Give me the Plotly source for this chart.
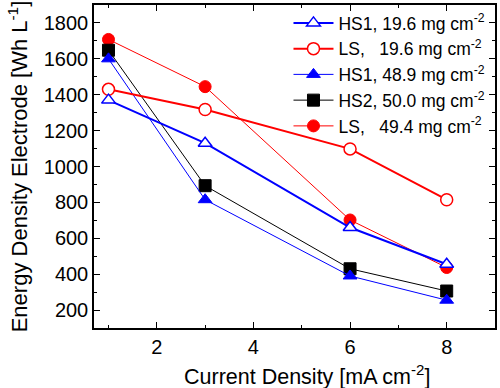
import plotly.graph_objects as go

current = [1, 3, 6, 8]
hs1_196 = [1370, 1130, 660, 455]
ls_196 = [1430, 1318, 1098, 815]
hs1_489 = [1600, 815, 390, 255]
hs2_500 = [1648, 893, 430, 306]
ls_494 = [1708, 1445, 702, 437]

NB = "\u00a0"
series = [
    ("HS1, 19.6 mg cm<sup>-2</sup>", hs1_196, "blue", "triangle-up", True, 2),
    ("LS," + NB * 3 + "19.6 mg cm<sup>-2</sup>", ls_196, "red", "circle", True, 2),
    ("HS1, 48.9 mg cm<sup>-2</sup>", hs1_489, "blue", "triangle-up", False, 1),
    ("HS2, 50.0 mg cm<sup>-2</sup>", hs2_500, "black", "square", False, 1),
    ("LS," + NB * 3 + "49.4 mg cm<sup>-2</sup>", ls_494, "red", "circle", False, 1),
]

fig = go.Figure()
for name, ys, col, sym, hollow, lw in reversed(series):
    fig.add_trace(go.Scatter(
        x=current, y=ys, name=name, mode="lines+markers",
        line=dict(color=col, width=lw),
        marker=dict(symbol=sym, size=12,
                    color="white" if hollow else col,
                    line=dict(color=col, width=1.5 if hollow else 1)),
    ))

font = "Liberation Sans, Arial, sans-serif"
axis_common = dict(
    showline=True, linecolor="black", linewidth=1.5, mirror="ticks",
    ticks="inside", ticklen=6, tickwidth=1.3, tickcolor="black",
    showgrid=False, zeroline=False,
    tickfont=dict(family=font, size=20, color="black"),
)
fig.update_xaxes(
    range=[0.7, 9.0], tick0=2, dtick=2,
    minor=dict(ticks="inside", ticklen=3, tickwidth=1.2, tickcolor="black", dtick=1, tick0=1),
    **axis_common,
)
fig.update_yaxes(
    range=[100, 1900], tick0=200, dtick=200,
    minor=dict(ticks="inside", ticklen=3, tickwidth=1.2, tickcolor="black", dtick=100),
    title=dict(text="Energy Density Electrode [Wh L<sup>-1</sup>]", font=dict(family=font, size=22, color="black"), standoff=10),
    **axis_common,
)
fig.add_annotation(
    text="Current Density [mA cm<sup>-2</sup>]", xref="paper", yref="paper",
    x=0.532, y=-0.147, xanchor="center", yanchor="middle", showarrow=False,
    font=dict(family=font, size=21.5, color="black"),
)
fig.update_layout(
    width=500, height=388,
    margin=dict(l=94, r=3, t=3, b=60),
    paper_bgcolor="white", plot_bgcolor="white",
    showlegend=True,
    legend=dict(x=0.485, xanchor="left", y=1, yanchor="top", traceorder="reversed",
                bgcolor="rgba(0,0,0,0)", font=dict(family=font, size=17.5, color="black"),
                itemwidth=40, tracegroupgap=0),
    font=dict(family=font),
)
fig.write_html("out.html", config={"displayModeBar": False},
               post_script="document.body.style.margin='0';document.body.style.overflow='hidden';")
